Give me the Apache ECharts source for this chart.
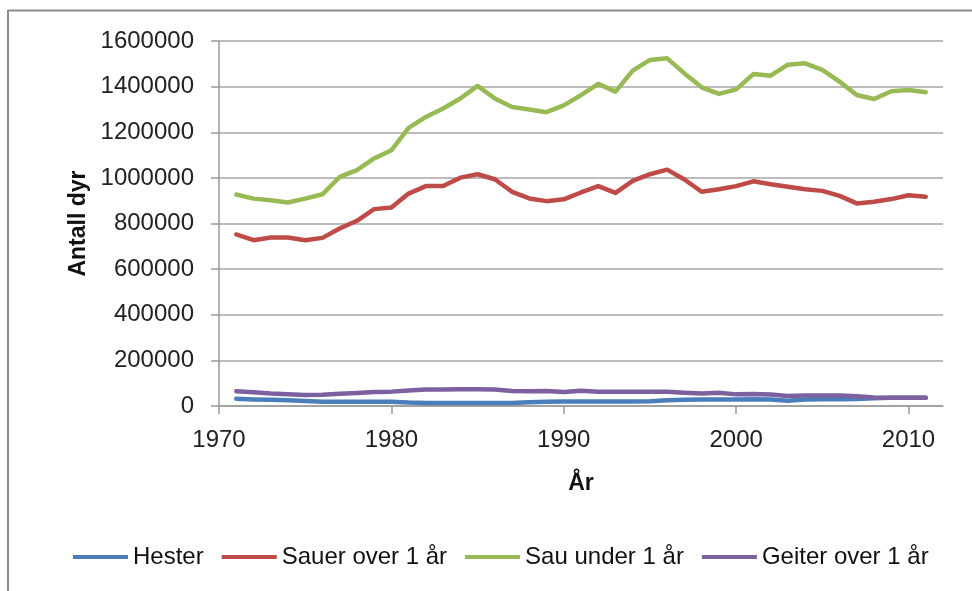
<!DOCTYPE html>
<html>
<head>
<meta charset="utf-8">
<script src="https://cdn.jsdelivr.net/npm/echarts@6/dist/echarts.min.js"></script>
<style>
html,body{margin:0;padding:0;background:#fff;}
#chart{width:972px;height:591px;}
</style>
</head>
<body>
<div id="chart"></div>
<script>
const years = [1971,1972,1973,1974,1975,1976,1977,1978,1979,1980,1981,1982,1983,1984,1985,1986,1987,1988,1989,1990,1991,1992,1993,1994,1995,1996,1997,1998,1999,2000,2001,2002,2003,2004,2005,2006,2007,2008,2009,2010,2011];
const hester = [32000,29000,27000,25000,22000,19000,19000,19000,19000,19000,15000,13000,13000,13000,13000,13000,13000,16000,19000,20000,20000,20000,20000,20000,21000,25000,27000,28000,28000,28000,30000,28000,23000,28000,30000,30000,31000,34000,36000,36000,36000];
const sauerOver = [752000,727000,739000,739000,727000,737000,778000,812000,863000,870000,931000,964000,964000,1001000,1016000,994000,939000,910000,898000,906000,936000,964000,934000,987000,1016000,1036000,993000,939000,950000,964000,985000,972000,961000,950000,943000,921000,888000,895000,907000,924000,917000];
const sauUnder = [927000,909000,902000,892000,909000,928000,1004000,1034000,1085000,1121000,1219000,1267000,1304000,1348000,1403000,1348000,1311000,1300000,1288000,1318000,1363000,1412000,1378000,1470000,1517000,1524000,1458000,1397000,1368000,1388000,1455000,1448000,1496000,1502000,1473000,1422000,1363000,1346000,1380000,1385000,1375000];
const geiter = [65000,60000,55000,52000,48000,49000,54000,57000,61000,63000,68000,72000,72000,73000,73000,72000,66000,65000,66000,61000,67000,62000,62000,63000,62000,62000,58000,55000,58000,51000,53000,50000,44000,46000,46000,46000,43000,37000,36000,36000,36000];
const seriesNames = ['Hester','Sauer over 1 år','Sau under 1 år','Geiter over 1 år'];
const seriesData = [hester, sauerOver, sauUnder, geiter];
const colors = ['#4A7EBB','#BE4B48','#98B954','#7D60A0'];
const xTicks = [1970,1980,1990,2000,2010];

const chart = echarts.init(document.getElementById('chart'), null, {renderer:'canvas'});
const font = '"Liberation Sans", Arial, sans-serif';
const option = {
  animation:false,
  backgroundColor:'#fff',
  color: colors,
  textStyle:{fontFamily:font},
  graphic:[
    {type:'line', shape:{x1:8,y1:10.5,x2:972,y2:10.5}, style:{stroke:'#8c8c8c',lineWidth:2}},
    {type:'line', shape:{x1:8,y1:10,x2:8,y2:591}, style:{stroke:'#8c8c8c',lineWidth:2}}
  ],
  grid:{left:219,right:29,top:41,bottom:185,containLabel:false},
  legend:{
    left:73, top:545, padding:0,
    icon:'rect', itemWidth:55, itemHeight:4, itemGap:18,
    textStyle:{fontFamily:font,fontSize:24,color:'#111'},
    data:seriesNames
  },
  xAxis:{
    type:'value', min:1970, max:2012, interval:10,
    name:'År', nameLocation:'middle', nameGap:66,
    nameTextStyle:{fontFamily:font,fontSize:23,fontWeight:'bold',color:'#111'},
    axisLine:{show:true,onZero:false,lineStyle:{color:'#999',width:1.5}},
    axisTick:{show:true,length:8,customValues:xTicks,lineStyle:{color:'#999',width:1.5}},
    axisLabel:{customValues:xTicks,margin:22,fontFamily:font,fontSize:24,color:'#222',formatter:v=>String(v)},
    splitLine:{show:false}
  },
  yAxis:{
    type:'value', min:0, max:1600000, interval:200000,
    name:'Antall dyr', nameLocation:'middle', nameGap:128, nameRotate:90,
    nameTextStyle:{fontFamily:font,fontSize:23,fontWeight:'bold',color:'#111'},
    axisLine:{show:true,lineStyle:{color:'#999',width:1.5}},
    axisTick:{show:true,length:8,lineStyle:{color:'#999',width:1.5}},
    axisLabel:{margin:25,fontFamily:font,fontSize:24,color:'#222',formatter:v=>String(v)},
    splitLine:{show:true,lineStyle:{color:'#a6a6a6',width:1.5}}
  },
  series: seriesNames.map((n,i)=>({
    name:n, type:'line', showSymbol:false, symbol:'none',
    data: years.map((y,j)=>[y, seriesData[i][j]]),
    lineStyle:{width:4.5,color:colors[i],cap:'round',join:'round'},
    itemStyle:{color:colors[i]}
  }))
};
chart.setOption(option);
</script>
</body>
</html>
